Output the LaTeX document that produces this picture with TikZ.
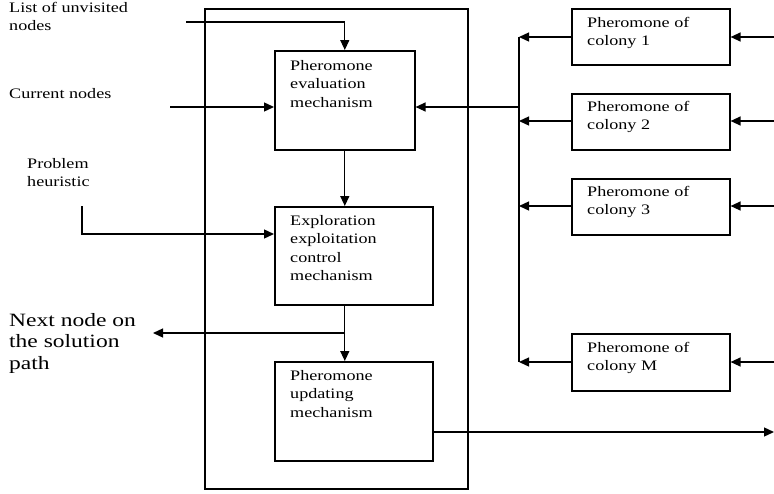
\documentclass[tikz,border=0pt]{standalone}
\usepackage{fontspec}
\setmainfont[FakeStretch=1.25]{Liberation Serif}
\usetikzlibrary{arrows.meta,calc}
\tikzset{
  box/.style={draw, line width=1.6pt, inner sep=0pt, anchor=north west},
  txt/.style={inner sep=0pt, anchor=north west, align=left, font=\fontsize{14.5}{18.5}\selectfont},
  bigtxt/.style={inner sep=0pt, anchor=north west, align=left, font=\fontsize{18.8}{21.5}\selectfont},
  conn/.style={line width=1.3pt, -{Triangle[length=10pt,width=9pt]}},
  plain/.style={line width=1.3pt}
}
\begin{document}
\begin{tikzpicture}[x=1pt,y=-1pt]
\useasboundingbox (0,0) rectangle (774,493);
% outer box
\node[box, minimum width=263pt, minimum height=480pt] (outer) at (204,8) {};
% inner boxes
\node[box, minimum width=140pt, minimum height=99pt] (pe) at (274,50) {};
\node[box, minimum width=158pt, minimum height=98pt] (ee) at (274,206) {};
\node[box, minimum width=158pt, minimum height=99pt] (pu) at (274,361) {};
\node[txt] (tpe) at (290,60) {Pheromone\\evaluation\\mechanism};
\node[txt] (tee) at (290,215) {Exploration\\exploitation\\control\\mechanism};
\node[txt] (tpu) at (290,370) {Pheromone\\updating\\mechanism};
% colony boxes
\node[box, minimum width=158pt, minimum height=56pt] (c1) at (571,8) {};
\node[box, minimum width=158pt, minimum height=56pt] (c2) at (571,93) {};
\node[box, minimum width=158pt, minimum height=56pt] (c3) at (571,178) {};
\node[box, minimum width=158pt, minimum height=57pt] (cm) at (571,333) {};
\node[txt] (tc1) at (587,17) {Pheromone of\\colony 1};
\node[txt] (tc2) at (587,101) {Pheromone of\\colony 2};
\node[txt] (tc3) at (587,186) {Pheromone of\\colony 3};
\node[txt] (tcm) at (587,342) {Pheromone of\\colony M};
% left labels
\node[txt] (lun) at (9,2) {List of unvisited\\nodes};
\node[txt] (lcur) at (9,88) {Current nodes};
\node[txt] (lph) at (27,158) {Problem\\heuristic};
\node[bigtxt] (lnext) at (9,313) {Next node on\\the solution\\path};
% coordinates
\coordinate (sun) at (186,22);
\coordinate (scur) at (170,107);
\coordinate (sph) at (82,206);
\coordinate (bend) at (345,333);
\coordinate (nextend) at (153,333);
\coordinate (bustop) at (519,37);
\coordinate (busbot) at (519,362);
\coordinate (busmid) at (519,107);
\coordinate (r1) at (774,37);
\coordinate (r2) at (774,121);
\coordinate (r3) at (774,206);
\coordinate (rm) at (774,362);
\coordinate (rout) at (774,432);
% connectors
\draw[conn] (sun) -| (pe.north);
\draw[conn] (scur) -- (pe.west |- scur);
\draw[conn] (sph) |- (ee.west |- 0,234);
\draw[conn] (pe.south) -- (pe.south |- ee.north);
\draw[conn] (pe.south |- ee.south) -- (pe.south |- pu.north);
\draw[conn] (bend) -- (nextend);
\draw[plain] (bustop) -- (busbot);
\draw[conn] (busmid) -- (pe.east |- busmid);
\draw[conn] (c1.west |- bustop) -- (bustop);
\draw[conn] (c2.west |- 0,121) -- (519,121);
\draw[conn] (c3.west |- 0,206) -- (519,206);
\draw[conn] (cm.west |- busbot) -- (busbot);
\draw[conn] (r1) -- (c1.east |- r1);
\draw[conn] (r2) -- (c2.east |- r2);
\draw[conn] (r3) -- (c3.east |- r3);
\draw[conn] (rm) -- (cm.east |- rm);
\draw[conn] (pu.east |- rout) -- (rout);
\end{tikzpicture}
\end{document}
